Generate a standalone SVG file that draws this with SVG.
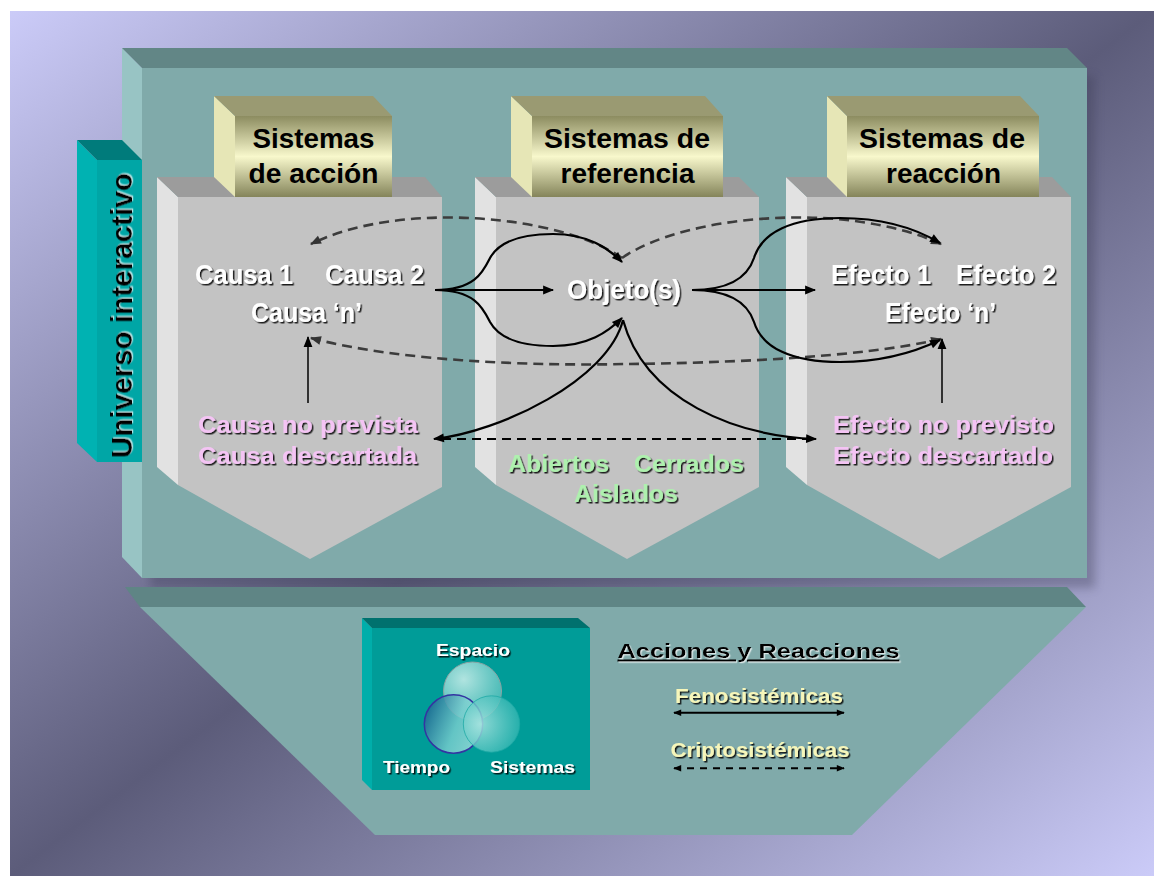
<svg xmlns="http://www.w3.org/2000/svg" width="1154" height="876" viewBox="0 0 1154 876">
<defs>
  <linearGradient id="bg" x1="0" y1="0" x2="1" y2="1">
    <stop offset="0" stop-color="#cbcbf8"/>
    <stop offset="0.5" stop-color="#5c5c7a"/>
    <stop offset="1" stop-color="#cbcbf8"/>
  </linearGradient>
  <linearGradient id="tan" x1="0" y1="0" x2="0" y2="1">
    <stop offset="0" stop-color="#8c8c60"/>
    <stop offset="0.5" stop-color="#f8f8cc"/>
    <stop offset="1" stop-color="#84845a"/>
  </linearGradient>
  <radialGradient id="cTop" cx="0.35" cy="0.3" r="0.8">
    <stop offset="0" stop-color="#c4ece8" stop-opacity="0.9"/>
    <stop offset="1" stop-color="#4cbcb8" stop-opacity="0.8"/>
  </radialGradient>
  <linearGradient id="cLeft" x1="0" y1="0.3" x2="1" y2="0.7">
    <stop offset="0" stop-color="#1a6690" stop-opacity="0.9"/>
    <stop offset="0.55" stop-color="#7ccfd0" stop-opacity="0.8"/>
    <stop offset="1" stop-color="#a8e2de" stop-opacity="0.8"/>
  </linearGradient>
  <radialGradient id="cRight" cx="0.3" cy="0.5" r="0.8">
    <stop offset="0" stop-color="#a8e4e0" stop-opacity="0.85"/>
    <stop offset="1" stop-color="#22b0ac" stop-opacity="0.75"/>
  </radialGradient>
  <filter id="ds" x="-5%" y="-20%" width="110%" height="140%">
    <feDropShadow dx="1.5" dy="1.5" stdDeviation="0.3" flood-color="#000" flood-opacity="0.85"/>
  </filter>
  <filter id="ls" x="-5%" y="-20%" width="110%" height="140%">
    <feDropShadow dx="1.2" dy="1.2" stdDeviation="0.2" flood-color="#fff" flood-opacity="0.7"/>
  </filter>
  <filter id="blur" x="-10%" y="-10%" width="120%" height="120%">
    <feGaussianBlur stdDeviation="5"/>
  </filter>
  <marker id="ah" viewBox="0 0 10 10" refX="9" refY="5" markerWidth="12" markerHeight="11" markerUnits="userSpaceOnUse" orient="auto-start-reverse">
    <path d="M0,1 L10,5 L0,9 z" fill="#000"/>
  </marker>
  <marker id="ahg" viewBox="0 0 10 10" refX="9" refY="5" markerWidth="12" markerHeight="11" markerUnits="userSpaceOnUse" orient="auto-start-reverse">
    <path d="M0,1 L10,5 L0,9 z" fill="#333"/>
  </marker>
  <marker id="ahs" viewBox="0 0 10 10" refX="9" refY="5" markerWidth="9" markerHeight="8" markerUnits="userSpaceOnUse" orient="auto-start-reverse">
    <path d="M0,1 L10,5 L0,9 z" fill="#000"/>
  </marker>
</defs>
<style>
  text { font-family: "Liberation Sans", Arial, Helvetica, sans-serif; }
  .hdr { font-size: 27px; font-weight: bold; fill: #000; text-anchor: middle; }
  .wt { font-size: 28px; font-weight: bold; fill: #fff; filter: url(#ds); }
  .pk { font-size: 23px; font-weight: bold; fill: #f4c4f4; filter: url(#ds); }
  .gr { font-size: 23px; font-weight: bold; fill: #aef0ae; filter: url(#ds); }
  .yl { font-size: 21px; font-weight: bold; fill: #f6f6ba; filter: url(#ds); }
  .vn { font-size: 17px; font-weight: bold; fill: #fff; filter: url(#ds); }
  .sol { fill: none; stroke: #000; stroke-width: 2.2; }
  .dsh { fill: none; stroke: #3c3c3c; stroke-width: 2.6; stroke-dasharray: 10 6; }
  .dshb { fill: none; stroke: #000; stroke-width: 2.2; stroke-dasharray: 9 6; }
  .thin { fill: none; stroke: #000; stroke-width: 1.5; }
  .colF { fill: #c3c3c3; }
  .colL { fill: #e2e2e2; }
  .colT { fill: #9c9c9c; }
  .tanL { fill: #e6e6b6; }
  .tanT { fill: #9a9a72; }
  .tanF { fill: url(#tan); }
</style>

<rect x="10" y="11" width="1144" height="865" fill="url(#bg)"/>

<g id="panel-main">
  <rect x="150" y="76" width="945" height="512" fill="#3a3a55" opacity="0.35" filter="url(#blur)"/>
  <polygon points="122,48 142,68 142,578 122,557" fill="#98c4c4"/>
  <polygon points="122,48 1067,48 1087,68 142,68" fill="#628686"/>
  <rect x="142" y="68" width="945" height="510" fill="#80aaaa"/>
</g>

<g id="panel-bottom">
  <polygon points="125,587 1067,587 1086,607 140,607" fill="#5f8585"/>
  <polygon points="140,607 1086,607 852,835 375,835" fill="#80aaaa"/>
</g>

<g id="universo-interactivo">
  <polygon points="77,140 97,160 97,462 77,443" fill="#00b2b2"/>
  <polygon points="77,140 122,140 142,160 97,160" fill="#007b7b"/>
  <rect x="97" y="160" width="45" height="302" fill="#00a6a6"/>
  <text transform="translate(132,315.5) rotate(-90)" text-anchor="middle" font-size="29" font-weight="bold" fill="#000" filter="url(#ls)" textLength="285" lengthAdjust="spacingAndGlyphs">Universo interactivo</text>
</g>

<g id="col-accion">
  <polygon class="colL" points="157,177 178,197 178,485 157,467"/>
  <polygon class="colT" points="157,177 425,177 442,197 178,197"/>
  <polygon class="colF" points="178,197 442,197 442,487 310,559 178,485"/>
  <polygon class="tanL" points="214,96 235,116 235,197 214,177"/>
  <polygon class="tanT" points="214,96 373,96 392,116 235,116"/>
  <rect class="tanF" x="235" y="116" width="157" height="81"/>
  <text class="hdr" x="313.5" y="148" textLength="122" lengthAdjust="spacingAndGlyphs">Sistemas</text>
  <text class="hdr" x="313.5" y="183" textLength="130" lengthAdjust="spacingAndGlyphs">de acción</text>
  <text class="wt" x="195" y="284" textLength="98" lengthAdjust="spacingAndGlyphs">Causa 1</text>
  <text class="wt" x="325" y="284" textLength="99" lengthAdjust="spacingAndGlyphs">Causa 2</text>
  <text class="wt" x="251" y="321.5" textLength="111" lengthAdjust="spacingAndGlyphs">Causa ‘n’</text>
  <text class="pk" x="198" y="433" textLength="220" lengthAdjust="spacingAndGlyphs">Causa no prevista</text>
  <text class="pk" x="198" y="464" textLength="219" lengthAdjust="spacingAndGlyphs">Causa descartada</text>
</g>

<g id="col-referencia">
  <polygon class="colL" points="475,177 496,197 496,485 475,467"/>
  <polygon class="colT" points="475,177 739,177 759,197 496,197"/>
  <polygon class="colF" points="496,197 759,197 759,487 627,559 496,485"/>
  <polygon class="tanL" points="511,96 532,116 532,197 511,177"/>
  <polygon class="tanT" points="511,96 705,96 723,116 532,116"/>
  <rect class="tanF" x="532" y="116" width="191" height="81"/>
  <text class="hdr" x="627" y="148" textLength="166" lengthAdjust="spacingAndGlyphs">Sistemas de</text>
  <text class="hdr" x="627.5" y="183" textLength="134" lengthAdjust="spacingAndGlyphs">referencia</text>
  <text class="wt" x="567" y="299" textLength="114" lengthAdjust="spacingAndGlyphs">Objeto(s)</text>
  <text class="gr" x="508" y="471.5" textLength="101" lengthAdjust="spacingAndGlyphs">Abiertos</text>
  <text class="gr" x="634" y="471.5" textLength="110" lengthAdjust="spacingAndGlyphs">Cerrados</text>
  <text class="gr" x="574" y="501.5" textLength="104" lengthAdjust="spacingAndGlyphs">Aislados</text>
</g>

<g id="col-reaccion">
  <polygon class="colL" points="786,177 807,197 807,485 786,467"/>
  <polygon class="colT" points="786,177 1052,177 1071,197 807,197"/>
  <polygon class="colF" points="807,197 1071,197 1071,487 939,559 807,485"/>
  <polygon class="tanL" points="827,96 847,116 847,197 827,177"/>
  <polygon class="tanT" points="827,96 1020,96 1039,116 847,116"/>
  <rect class="tanF" x="847" y="116" width="192" height="81"/>
  <text class="hdr" x="942" y="148" textLength="166" lengthAdjust="spacingAndGlyphs">Sistemas de</text>
  <text class="hdr" x="943.5" y="183" textLength="115" lengthAdjust="spacingAndGlyphs">reacción</text>
  <text class="wt" x="831" y="283.5" textLength="100" lengthAdjust="spacingAndGlyphs">Efecto 1</text>
  <text class="wt" x="956" y="283.5" textLength="100" lengthAdjust="spacingAndGlyphs">Efecto 2</text>
  <text class="wt" x="885" y="321.5" textLength="111" lengthAdjust="spacingAndGlyphs">Efecto ‘n’</text>
  <text class="pk" x="833" y="433" textLength="221" lengthAdjust="spacingAndGlyphs">Efecto no previsto</text>
  <text class="pk" x="833" y="464" textLength="220" lengthAdjust="spacingAndGlyphs">Efecto descartado</text>
</g>

<g id="connectors">
  <path class="dsh" d="M622,258 C560,215 400,200 311,244" marker-end="url(#ahg)"/>
  <path class="dsh" d="M622,258 C684,215 844,200 941,244" marker-end="url(#ahg)"/>
  <path class="dsh" d="M311,338 C400,362 540,366 626,364 C720,363 860,358 941,339" marker-start="url(#ahg)" marker-end="url(#ahg)"/>
  <path class="sol" d="M435,290 L553,290" marker-end="url(#ah)"/>
  <path class="sol" d="M435,290 C475,290 483,272 490,258 C500,240 525,234 553,234 C588,234 608,248 622,262" marker-end="url(#ah)"/>
  <path class="sol" d="M435,290 C475,290 483,308 490,322 C500,340 525,346 553,346 C588,346 608,332 622,318" marker-end="url(#ah)"/>
  <path class="sol" d="M692,290 L815,290" marker-end="url(#ah)"/>
  <path class="sol" d="M692,290 C732,290 748,276 754,258 C762,232 792,218 840,218 C882,218 915,228 940,243" marker-end="url(#ah)"/>
  <path class="sol" d="M692,290 C732,290 748,304 754,322 C762,348 792,362 840,362 C882,362 915,352 940,340" marker-end="url(#ah)"/>
  <path class="sol" d="M623,320 C608,380 500,432 434,439" marker-end="url(#ah)"/>
  <path class="sol" d="M623,320 C645,400 735,436 816,439" marker-end="url(#ah)"/>
  <path class="dshb" d="M442,439 L808,439"/>
  <path class="thin" d="M308,403 L308,337" marker-end="url(#ah)"/>
  <path class="thin" d="M942,403 L942,339" marker-end="url(#ah)"/>
</g>

<g id="venn-box">
  <polygon points="362,618 372,628 372,790 362,780" fill="#00aeaa"/>
  <polygon points="362,618 578,618 590,628 372,628" fill="#00716e"/>
  <rect x="372" y="628" width="218" height="162" fill="#009c98"/>
  <circle cx="472.5" cy="691" r="29" fill="url(#cTop)" stroke="#8aa4a4" stroke-width="1"/>
  <circle cx="453.5" cy="724" r="29.2" fill="url(#cLeft)" stroke="#3434a2" stroke-width="1.5"/>
  <circle cx="491.5" cy="724" r="28.2" fill="url(#cRight)" stroke="#20aaa6" stroke-width="0.8"/>
  <text class="vn" x="436" y="655.5" textLength="74" lengthAdjust="spacingAndGlyphs">Espacio</text>
  <text class="vn" x="383" y="772.5" textLength="67" lengthAdjust="spacingAndGlyphs">Tiempo</text>
  <text class="vn" x="490" y="772.5" textLength="85" lengthAdjust="spacingAndGlyphs">Sistemas</text>
</g>

<g id="legend">
  <text x="617.5" y="657.5" font-size="21" font-weight="bold" fill="#000" text-decoration="underline" filter="url(#ls)" textLength="282" lengthAdjust="spacingAndGlyphs">Acciones y Reacciones</text>
  <text class="yl" x="675" y="703" textLength="168" lengthAdjust="spacingAndGlyphs">Fenosistémicas</text>
  <path d="M674,712.7 L844,712.7" fill="none" stroke="#000" stroke-width="2" marker-start="url(#ahs)" marker-end="url(#ahs)"/>
  <text class="yl" x="670.5" y="756.5" textLength="179" lengthAdjust="spacingAndGlyphs">Criptosistémicas</text>
  <path d="M674,768.3 L844,768.3" fill="none" stroke="#000" stroke-width="2" stroke-dasharray="7 6" marker-start="url(#ahs)" marker-end="url(#ahs)"/>
</g>
</svg>
